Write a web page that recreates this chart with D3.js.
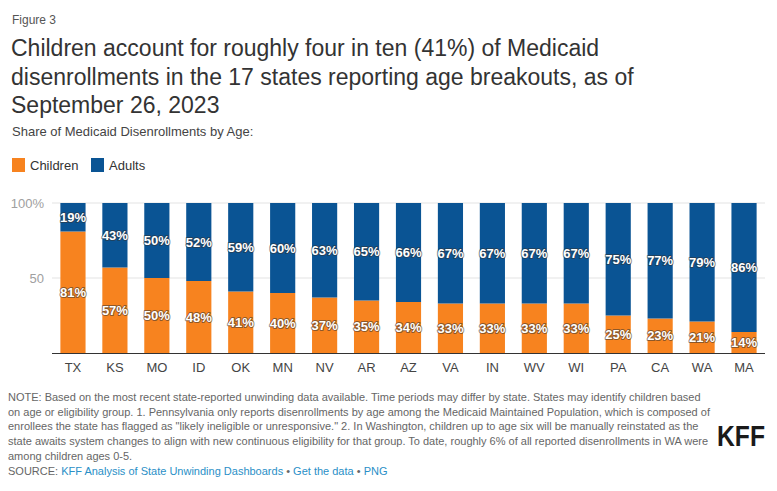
<!DOCTYPE html>
<html>
<head>
<meta charset="utf-8">
<script src="https://cdn.jsdelivr.net/npm/d3@7"></script>
<style>
  body { margin: 0; background: #fff; font-family: "Liberation Sans", Arial, sans-serif; }
  svg { display: block; }
</style>
</head>
<body>
<svg id="chart" width="777" height="491"></svg>
<script>
const states = ["TX","KS","MO","ID","OK","MN","NV","AR","AZ","VA","IN","WV","WI","PA","CA","WA","MA"];
const children = [81,57,50,48,41,40,37,35,34,33,33,33,33,25,23,21,14];
const adults = [19,43,50,52,59,60,63,65,66,67,67,67,67,75,77,79,86];
const yTicks = [50, 100];
const yTickLabels = ["50", "100%"];
const seriesNames = ["Children", "Adults"];
const colors = ["#f7831f", "#0a5494"];

const titleLines = [
  "Children account for roughly four in ten (41%) of Medicaid",
  "disenrollments in the 17 states reporting age breakouts, as of",
  "September 26, 2023"
];
const noteLines = [
  "NOTE: Based on the most recent state-reported unwinding data available. Time periods may differ by state. States may identify children based",
  "on age or eligibility group. 1. Pennsylvania only reports disenrollments by age among the Medicaid Maintained Population, which is composed of",
  "enrollees the state has flagged as \"likely ineligible or unresponsive.\" 2. In Washington, children up to age six will be manually reinstated as the",
  "state awaits system changes to align with new continuous eligibility for that group. To date, roughly 6% of all reported disenrollments in WA were",
  "among children ages 0-5."
];

const svg = d3.select("#chart");
const font = "'Liberation Sans', Arial, sans-serif";

svg.append("text").attr("x", 12).attr("y", 24).text("Figure 3")
  .attr("font-family", font).attr("font-size", 12).attr("fill", "#555");

svg.append("g").selectAll("text").data(titleLines).join("text")
  .attr("x", 11).attr("y", (d, i) => 56 + i * 28.5)
  .text(d => d).attr("font-family", font).attr("font-size", 23).attr("fill", "#333");

svg.append("text").attr("x", 12).attr("y", 136).text("Share of Medicaid Disenrollments by Age:")
  .attr("font-family", font).attr("font-size", 13).attr("fill", "#444");

// legend
const lg = svg.append("g");
const legendX = [12, 91];
seriesNames.forEach((n, i) => {
  lg.append("rect").attr("x", legendX[i]).attr("y", 158).attr("width", 13).attr("height", 14).attr("fill", colors[i]);
  lg.append("text").attr("x", legendX[i] + 18).attr("y", 170).text(n)
    .attr("font-family", font).attr("font-size", 13).attr("fill", "#333");
});

const x = d3.scaleBand().domain(states).range([52, 765]).paddingInner(0.4).paddingOuter(0.2);
const y = d3.scaleLinear().domain([0, 100]).range([353, 203]);

// gridlines
svg.append("g").selectAll("line").data(yTicks).join("line")
  .attr("x1", 52).attr("x2", 765).attr("y1", d => y(d)).attr("y2", d => y(d))
  .attr("stroke", "#e3e3e3").attr("stroke-width", 1);

// y labels
svg.append("g").selectAll("text").data(yTicks).join("text")
  .attr("x", 44).attr("y", d => y(d) + 5).attr("text-anchor", "end")
  .text((d, i) => yTickLabels[i])
  .attr("font-family", font).attr("font-size", 13).attr("fill", "#a0a0a0");

const data = states.map((s, i) => ({ s, c: children[i], a: adults[i] }));

const bars = svg.append("g");
bars.selectAll("rect.c").data(data).join("rect").attr("class", "c")
  .attr("x", d => x(d.s)).attr("width", x.bandwidth())
  .attr("y", d => y(d.c)).attr("height", d => y(0) - y(d.c)).attr("fill", colors[0]);
bars.selectAll("rect.a").data(data).join("rect").attr("class", "a")
  .attr("x", d => x(d.s)).attr("width", x.bandwidth())
  .attr("y", d => y(d.c + d.a)).attr("height", d => y(d.c) - y(d.c + d.a)).attr("fill", colors[1]);

// labels
const lab = svg.append("g").attr("font-family", font).attr("font-size", 13).attr("font-weight", "bold")
  .attr("text-anchor", "middle");
function addLabels(cls, getY, getV) {
  lab.selectAll("text.o" + cls).data(data).join("text").attr("class", "o" + cls)
    .attr("x", d => x(d.s) + x.bandwidth() / 2).attr("y", d => getY(d) + 4.5)
    .text(d => getV(d) + "%").attr("fill", "none").attr("stroke", "#333").attr("stroke-width", 2)
    .attr("stroke-opacity", 0.55).attr("stroke-linejoin", "round");
  lab.selectAll("text.t" + cls).data(data).join("text").attr("class", "t" + cls)
    .attr("x", d => x(d.s) + x.bandwidth() / 2).attr("y", d => getY(d) + 4.5)
    .text(d => getV(d) + "%").attr("fill", "#fff");
}
addLabels("c", d => (y(0) + y(d.c)) / 2, d => d.c);
addLabels("a", d => (y(d.c) + y(d.c + d.a)) / 2, d => d.a);

// x axis
svg.append("line").attr("x1", 52).attr("x2", 765).attr("y1", 353.5).attr("y2", 353.5)
  .attr("stroke", "#333").attr("stroke-width", 1);
svg.append("g").selectAll("text").data(states).join("text")
  .attr("x", d => x(d) + x.bandwidth() / 2).attr("y", 372).attr("text-anchor", "middle")
  .text(d => d).attr("font-family", font).attr("font-size", 13).attr("fill", "#444");

// notes
svg.append("g").selectAll("text").data(noteLines).join("text")
  .attr("x", 8).attr("y", (d, i) => 401 + i * 14.7).text(d => d)
  .attr("font-family", font).attr("font-size", 11).attr("fill", "#666");

const src = svg.append("text").attr("x", 8).attr("y", 474.5)
  .attr("font-family", font).attr("font-size", 11);
src.append("tspan").text("SOURCE: ").attr("fill", "#666");
src.append("tspan").text("KFF Analysis of State Unwinding Dashboards").attr("fill", "#2a8fc7");
src.append("tspan").text(" • ").attr("fill", "#666");
src.append("tspan").text("Get the data").attr("fill", "#2a8fc7");
src.append("tspan").text(" • ").attr("fill", "#666");
src.append("tspan").text("PNG").attr("fill", "#2a8fc7");

svg.append("text").attr("text-anchor", "middle").text("KFF")
  .attr("transform", "translate(741,446) scale(0.85,1)")
  .attr("font-family", "'Liberation Sans Narrow', 'Liberation Sans', Arial, sans-serif")
  .attr("font-size", 29).attr("font-weight", "bold").attr("fill", "#1a1a1a");
</script>
</body>
</html>
